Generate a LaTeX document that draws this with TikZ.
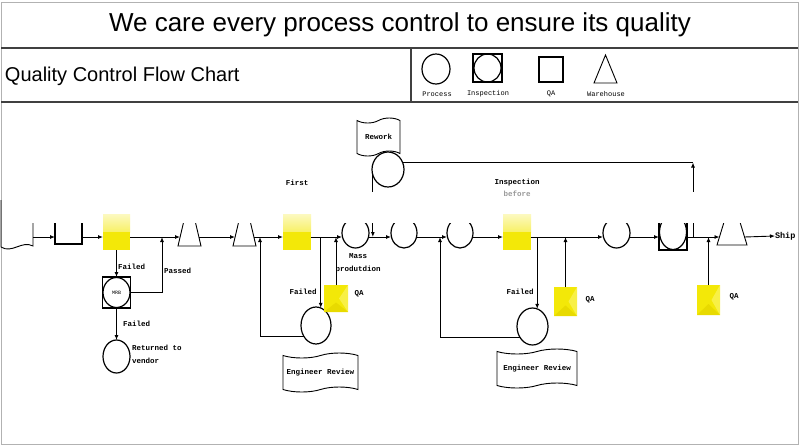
\documentclass[tikz,border=0pt]{standalone}
\usepackage{fontspec}
\setmainfont{Liberation Sans}
\newfontfamily\monof{Liberation Mono}
\usetikzlibrary{shapes.geometric,shapes.symbols,arrows.meta}
\definecolor{qay}{RGB}{243,232,8}
\definecolor{qal}{RGB}{248,240,70}
\definecolor{qad}{RGB}{232,218,0}
\begin{document}
\begin{tikzpicture}[x=1pt,y=-1pt,
  every node/.style={inner sep=0pt, outer sep=0pt},
  arr/.style={line width=0.9pt, -{Latex[length=5pt,width=4pt]}},
  con/.style={line width=0.9pt},
  proc/.style={ellipse, draw, line width=1.2pt, minimum width=27pt, minimum height=30pt, fill=white},
  inspbox/.style={rectangle, draw, line width=1.2pt, minimum width=28pt, minimum height=31pt},
  qabox/.style={rectangle, fill=qay, minimum width=24pt, minimum height=28pt,
    path picture={
      \fill[qal] (path picture bounding box.north east) -- ([xshift=3pt]path picture bounding box.center) -- (path picture bounding box.south east) -- cycle;
      \fill[qad] (path picture bounding box.south west) -- ([yshift=-4pt]path picture bounding box.center) -- (path picture bounding box.south east) -- cycle;}},
  qaflow/.style={rectangle, minimum width=28pt, minimum height=36pt,
    path picture={
      \shade[top color=qay!25, bottom color=qay] (path picture bounding box.north west) rectangle (path picture bounding box.east);
      \fill[qay] (path picture bounding box.west) rectangle (path picture bounding box.south east);}},
  lbl/.style={font=\monof\bfseries\fontsize{7.5}{13}\selectfont},
  leg/.style={font=\monof\fontsize{7}{8}\selectfont},
  docshape/.style={tape, draw, line width=0.9pt, fill=white, tape bend top=in and out, tape bend bottom=in and out, tape bend height=5pt, font=\monof\bfseries\fontsize{7.5}{9}\selectfont}
]
\useasboundingbox (0,0) rectangle (800,445);
% frame and header
\draw[gray!60, line width=0.8pt] (1,2) rectangle (798,444);
\draw[black!75, line width=1.2pt] (1,48) -- (798,48);
\draw[black!75, line width=1.2pt] (1,102) -- (798,102);
\draw[black!75, line width=1.2pt] (411,48) -- (411,102);
\node[font=\fontsize{26}{30}\selectfont] (title) at (400,25) {We care every process control to ensure its quality};
\node[anchor=west, font=\fontsize{20}{24}\selectfont] (sub) at (5,76) {Quality Control Flow Chart};
% legend
\node[proc, minimum width=28pt, minimum height=30pt] (lp) at (436,69) {};
\node[inspbox, minimum width=29pt, minimum height=28pt] (li) at (487.5,68) {};
\node[ellipse, draw, line width=1.2pt, minimum width=27pt, minimum height=28pt] (lic) at (li) {};
\node[rectangle, draw, line width=1.2pt, minimum width=24pt, minimum height=25pt] (lq) at (551,69.5) {};
\draw[line width=0.9pt] (594,83) -- (617,83) -- (605.5,55) -- cycle;
\node[leg] (lpt) at (437,94) {Process};
\node[leg] (lit) at (488,94) {Inspection};
\node[leg] (lqt) at (551,94) {QA};
\node[leg] (lwt) at (606,94) {Warehouse};
% flow line reference
\coordinate (fl) at (0,237);
% left document
\draw[con] (1,200) -- (1,247) .. controls (12,254) and (22,240) .. (33,246) -- (33,200);
\coordinate (d0) at (33,237);
\node[inspbox, minimum width=27pt, minimum height=32pt] (qa0) at (68.5,228) {};
% triangles
\draw[line width=0.9pt] (178,246) -- (201,246) -- (189.5,197) -- cycle;
\coordinate (t1w) at (180,237); \coordinate (t1e) at (199,237);
\draw[line width=0.9pt] (233,246) -- (256,246) -- (244.5,197) -- cycle;
\coordinate (t2w) at (235,237); \coordinate (t2e) at (254,237);
\draw[line width=0.9pt] (717,245) -- (747,245) -- (732,196) -- cycle;
\coordinate (t3w) at (719.5,237); \coordinate (t3e) at (744.5,237);
\node[proc] (pm) at (355.5,233) {};
\node[proc, minimum width=26pt] (p2) at (404,233) {};
\node[proc, minimum width=26pt] (p3) at (460,233) {};
\node[proc] (p5) at (616.5,233) {};
\node[inspbox, minimum width=28pt, minimum height=36pt] (insp) at (673,232) {};
\node[ellipse, draw, line width=1.2pt, minimum width=27pt, minimum height=35pt] (inspc) at (insp) {};
% rework
\node[docshape, minimum width=43pt, minimum height=38pt] (rwdoc) at (378.5,137) {Rework};
\node[proc, minimum width=32pt, minimum height=35pt] (rc) at (388,169.5) {};
\coordinate (rtop) at (693,162.5);
\draw[arr] (rc.200) -- (rc.200 |- fl);
\draw[con] (rc.25) -- (rc.25 -| rtop);
\draw[arr] (rtop |- fl) -- (rtop);
% washed-out band of the source image
\fill[white] (2,192) rectangle (796,223);
% yellow QA boxes on the flow line
\node[qaflow, minimum width=27pt] (y1) at (116.5,232) {};
\node[qaflow] (y2) at (297,232) {};
\node[qaflow] (y4) at (517,232) {};
\node[anchor=west, font=\monof\bfseries\fontsize{8.5}{10}\selectfont] (ship) at (775,236) {Ship};
% lower left
\node[inspbox, minimum width=28pt, minimum height=31pt] (mrb) at (116.5,292.5) {};
\node[ellipse, draw, line width=1.2pt, minimum width=27pt, minimum height=30pt, font=\monof\fontsize{5}{6}\selectfont] (mrbc) at (mrb) {MRB};
\node[proc, minimum height=33pt] (ret) at (116.5,356.5) {};
% engineer review 1
\node[proc, minimum width=30pt, minimum height=37pt] (er1) at (316,325.5) {};
\node[qabox, minimum width=24pt, minimum height=27pt] (qa3) at (336,298.5) {};
\node[docshape, minimum width=75pt, minimum height=39pt] (er1doc) at (320.5,372.5) {Engineer Review};
% engineer review 2
\node[proc, minimum width=31pt, minimum height=37pt] (er2) at (532.5,326.5) {};
\node[qabox, minimum width=23pt, minimum height=29pt] (qa5) at (565.5,301.5) {};
\node[docshape, minimum width=80pt, minimum height=39pt] (er2doc) at (537,368.5) {Engineer Review};
\node[qabox, minimum width=23pt, minimum height=30pt] (qa6) at (708.5,300) {};
% flow connectors
\draw[arr] (d0) -- (qa0.west |- fl);
\draw[arr] (qa0.east |- fl) -- (y1.west |- fl);
\draw[arr] (y1.east |- fl) -- (t1w);
\draw[arr] (t1e) -- (t2w);
\draw[arr] (t2e) -- (y2.west |- fl);
\draw[arr] (y2.east |- fl) -- (pm.west |- fl);
\draw[arr] (pm.east |- fl) -- (p2.west |- fl);
\draw[arr] (p2.east |- fl) -- (p3.west |- fl);
\draw[arr] (p3.east |- fl) -- (y4.west |- fl);
\draw[arr] (y4.east |- fl) -- (p5.west |- fl);
\draw[arr] (p5.east |- fl) -- (insp.west |- fl);
\draw[arr] (insp.east |- fl) -- (t3w);
\draw[arr] (t3e) -- (ship.west);
% branch connectors
\coordinate (jp) at (162,237);
\coordinate (j1) at (260,237);
\coordinate (j2) at (440,237);
\draw[arr] (y1.south) -- (mrb.north);
\draw[arr] (mrb.south) -- (ret.north);
\draw[arr] (mrb.east) -| (jp);
\draw[arr] (er1.75 |- fl) -- (er1.75);
\draw[arr] (qa3.north) -- (qa3.north |- fl);
\draw[arr] (er1.222) -| (j1);
\draw[arr] (er2.222) -| (j2);
\draw[arr] (er2.75 |- fl) -- (er2.75);
\draw[arr] (qa5.north) -- (qa5.north |- fl);
\draw[arr] (qa6.north) -- (qa6.north |- fl);
% labels
\node[lbl, anchor=west] (f1) at (118,267) {Failed};
\node[lbl, anchor=west] (pas) at (164,271) {Passed};
\node[lbl, anchor=west] (f2) at (123,324) {Failed};
\node[lbl, anchor=west, align=left] (rv) at (132,354.5) {Returned to\\vendor};
\node[lbl] (first) at (297,183) {First};
\node[lbl] (f3) at (303,292) {Failed};
\node[lbl] (q3) at (359,294) {QA};
\node[lbl, align=center] (mass) at (358,263.5) {Mass\\produtdion};
\node[lbl, align=center, font=\monof\bfseries\fontsize{7.5}{12}\selectfont] (ib) at (517,187.5) {Inspection\\\textcolor{black!40}{before}};
\node[lbl] (f4) at (520,292) {Failed};
\node[lbl] (q5) at (590,300) {QA};
\node[lbl] (q6) at (734,297) {QA};
\end{tikzpicture}
\end{document}
